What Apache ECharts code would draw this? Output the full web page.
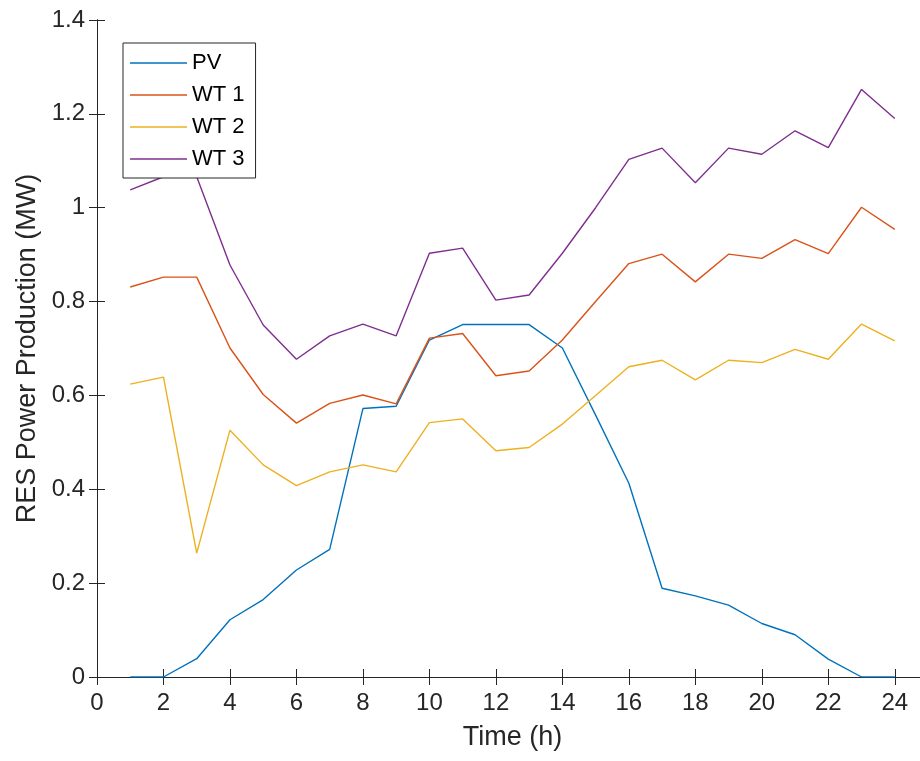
<!DOCTYPE html>
<html>
<head>
<meta charset="utf-8">
<script src="https://cdn.jsdelivr.net/npm/echarts@6/dist/echarts.min.js"></script>
<style>
html,body{margin:0;padding:0;background:#fff;}
#chart{width:920px;height:761px;}
</style>
</head>
<body>
<div id="chart"></div>
<script>
var hours = [1,2,3,4,5,6,7,8,9,10,11,12,13,14,15,16,17,18,19,20,21,22,23,24];
var pv  = [0,0,0.039,0.122,0.165,0.228,0.272,0.572,0.577,0.718,0.751,0.751,0.751,0.701,0.558,0.413,0.189,0.173,0.153,0.114,0.090,0.038,0,0];
var wt1 = [0.831,0.852,0.852,0.701,0.602,0.541,0.583,0.601,0.582,0.722,0.732,0.642,0.652,0.718,0.800,0.881,0.901,0.842,0.901,0.892,0.932,0.902,1.001,0.954];
var wt2 = [0.624,0.639,0.264,0.526,0.452,0.408,0.437,0.452,0.437,0.542,0.550,0.482,0.489,0.539,0.600,0.661,0.675,0.633,0.675,0.670,0.698,0.677,0.752,0.716];
var wt3 = [1.038,1.066,1.066,0.878,0.750,0.677,0.727,0.752,0.727,0.903,0.914,0.803,0.814,0.903,1.000,1.103,1.127,1.053,1.127,1.114,1.164,1.128,1.252,1.190];
var seriesNames = ['PV','WT 1','WT 2','WT 3'];
var seriesData = [pv, wt1, wt2, wt3];
var colors = ['#0072BD','#D95319','#EDB120','#7E2F8E'];

var FONT = 'Liberation Sans, Arial, Helvetica, sans-serif';
var AX = '#262626';

function pairs(arr){ return hours.map(function(h,i){ return [h, arr[i]]; }); }

var chart = echarts.init(document.getElementById('chart'), null, {renderer:'canvas'});
var axisCommon = {
  axisLine:{show:true, lineStyle:{color:AX, width:1}},
  axisTick:{show:true, inside:true, length:8, lineStyle:{color:AX, width:1}},
  splitLine:{show:false}
};
var option = {
  backgroundColor:'#ffffff',
  animation:false,
  grid:{left:97, top:20, width:831, height:657, containLabel:false, outerBoundsMode:'none'},
  legend:{
    left:123, top:43, orient:'vertical',
    data:seriesNames,
    icon:'rect',
    itemWidth:57, itemHeight:1.5, itemGap:10,
    padding:[9,11,8,7],
    borderColor:AX, borderWidth:1, backgroundColor:'#ffffff',
    textStyle:{fontFamily:FONT, fontSize:22, color:'#000', lineHeight:22}
  },
  xAxis:[
    Object.assign({
      type:'value', min:0, max:25, interval:2, position:'bottom',
      name:'Time (h)', nameLocation:'middle', nameGap:47,
      nameTextStyle:{fontFamily:FONT, fontSize:27, color:AX},
      axisLabel:{fontFamily:FONT, fontSize:24, color:AX, margin:14,
        formatter:function(v){ return v > 24 ? '' : String(v); }}
    }, axisCommon),
    Object.assign({
      type:'value', min:0, max:25, interval:2, position:'top',
      axisLabel:{show:false}
    }, axisCommon)
  ],
  yAxis:[
    Object.assign({
      type:'value', min:0, max:1.4, interval:0.2, position:'left',
      name:'RES Power Production (MW)', nameLocation:'middle', nameGap:56,
      nameTextStyle:{fontFamily:FONT, fontSize:27, color:AX},
      axisLabel:{fontFamily:FONT, fontSize:24, color:AX, margin:12,
        formatter:function(v){ return String(Math.round(v*10)/10); }}
    }, axisCommon),
    Object.assign({
      type:'value', min:0, max:1.4, interval:0.2, position:'right',
      axisLabel:{show:false}
    }, axisCommon)
  ],
  series: seriesNames.map(function(n,i){
    return {
      name:n, type:'line', xAxisIndex:0, yAxisIndex:0,
      data:pairs(seriesData[i]),
      symbol:'none', showSymbol:false,
      lineStyle:{color:colors[i], width:1.4},
      itemStyle:{color:colors[i]}
    };
  })
};
chart.setOption(option);
</script>
</body>
</html>
